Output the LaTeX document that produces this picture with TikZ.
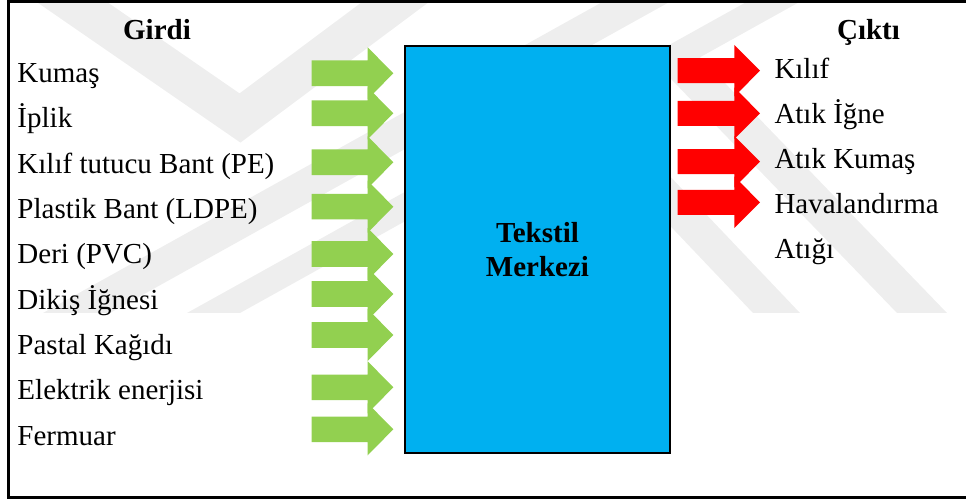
\documentclass[tikz,border=0pt]{standalone}
\usepackage{fontspec}
\setmainfont{Liberation Serif}
\definecolor{ingreen}{HTML}{92D050}
\definecolor{outred}{HTML}{FF0000}
\definecolor{centreblue}{HTML}{00B0F0}
\definecolor{wmgrey}{HTML}{EEEEEE}
\begin{document}
\begin{tikzpicture}[x=1bp,y=-1bp,
  wmark/.style={fill=wmgrey},
  txt/.style={font=\fontsize{29.1}{34.4}\selectfont, inner sep=0pt, anchor=base west},
  heading/.style={font=\fontsize{29.1}{34.4}\selectfont\bfseries, inner sep=0pt, anchor=base},
  inarrow/.style={fill=ingreen},
  outarrow/.style={fill=outred},
  centrebox/.style={draw=black, line width=2.2bp, fill=centreblue,
    minimum width=265bp, minimum height=407bp, inner sep=0pt, align=center,
    font=\fontsize{29.1}{34.4}\selectfont\bfseries},
  frame/.style={draw=black, line width=2.5bp}
]
\useasboundingbox (0,0) rectangle (966,499);
\clip (0,0) rectangle (966,499);

% background chevrons
\draw[draw=wmgrey, line width=40bp, miter limit=10] (40,-20) -- (240,118) -- (425,-20);
\fill[wmark] (43,313) -- (110,313) -- (691,-10) -- (624,-10) -- cycle;
\fill[wmark] (187,313) -- (240,313) -- (821,-10) -- (768,-10) -- cycle;
\fill[wmark] (753,313) -- (800,313) -- (645,150) -- (598,150) -- cycle;
\fill[wmark] (897,313) -- (947,313) -- (693,50) -- (643,50) -- cycle;

% outer frame (right side runs past the page edge)
\draw[frame] (8.3,1.3) rectangle (990,497.7);

% headings
\node[heading] (girdi) at (157,39.3) {Girdi};
\node[heading] (cikti) at (868.5,39.3) {Çıktı};

% inputs
\node[txt] (in1) at (17.3,82.7)  {Kumaş};
\node[txt] (in2) at (17.3,128)   {İplik};
\node[txt] (in3) at (17.3,173.3) {Kılıf tutucu Bant (PE)};
\node[txt] (in4) at (17.3,218.6) {Plastik Bant (LDPE)};
\node[txt] (in5) at (17.3,264)   {Deri (PVC)};
\node[txt] (in6) at (17.3,309.2) {Dikiş İğnesi};
\node[txt] (in7) at (17.3,354.5) {Pastal Kağıdı};
\node[txt] (in8) at (17.3,399.8) {Elektrik enerjisi};
\node[txt] (in9) at (17.3,445.1) {Fermuar};

% input arrows
\foreach \y in {73.3,113.3,162.3,206.7,254,294,335,387.3,429.3}
  \fill[inarrow] (311.7,\y-12.8) -- (367.7,\y-12.8) -- (367.7,\y-26)
    -- (393.3,\y) -- (367.7,\y+26) -- (367.7,\y+12.8) -- (311.7,\y+12.8) -- cycle;

% centre block
\node[centrebox] (centre) at (537.5,249.5) {Tekstil\\Merkezi};

% output arrows
\foreach \y in {70.7,113.3,161.7,202.3}
  \fill[outarrow] (677.7,\y-12.5) -- (734.3,\y-12.5) -- (734.3,\y-25.8)
    -- (760,\y) -- (734.3,\y+25.8) -- (734.3,\y+12.5) -- (677.7,\y+12.5) -- cycle;

% outputs
\node[txt] (out1) at (774.3,78.3)  {Kılıf};
\node[txt] (out2) at (774.3,123.3) {Atık İğne};
\node[txt] (out3) at (774.3,168.3) {Atık Kumaş};
\node[txt] (out4) at (774.3,213.3) {Havalandırma};
\node[txt] (out5) at (774.3,258.3) {Atığı};
\end{tikzpicture}
\end{document}
